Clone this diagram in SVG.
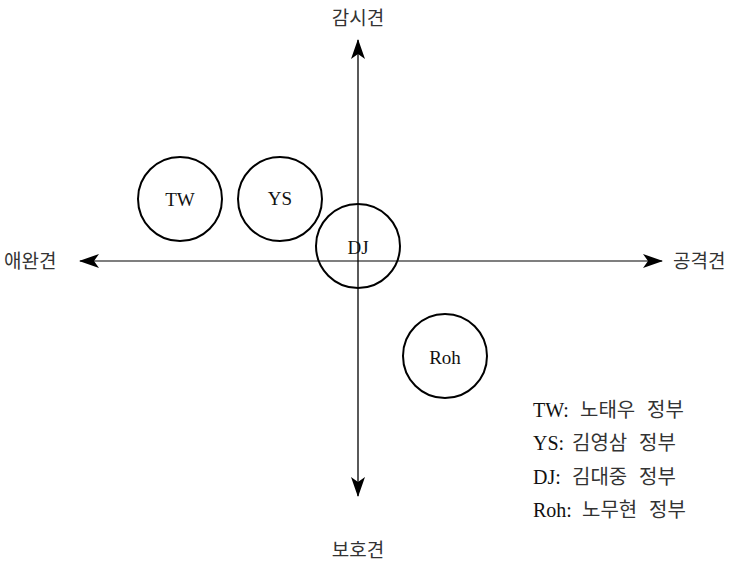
<svg xmlns="http://www.w3.org/2000/svg" width="739" height="566" viewBox="0 0 739 566">
<style>
.node{fill:none;stroke:#000;stroke-width:2}
.lbl{font-family:"Liberation Serif",serif;font-size:19px;fill:#111;text-anchor:middle;dominant-baseline:central}
.ax{font-family:"Noto Sans CJK KR",sans-serif;font-size:19px;fill:#333}
.leg{font-family:"Liberation Serif","Noto Sans CJK KR",serif;font-size:20px;fill:#111}
.ko{font-family:"Noto Sans CJK KR",sans-serif;fill:#333;font-size:20px}
</style>
<defs>
<marker id="ah" viewBox="0 0 20 14" refX="19" refY="7" markerWidth="20" markerHeight="14" markerUnits="userSpaceOnUse" orient="auto">
<path d="M0,0 L20,7 L0,14 L5,7 Z" fill="#000"/>
</marker>
</defs>
<rect width="739" height="566" fill="#fff"/>
<g id="connectors">
<line x1="358" y1="261" x2="80" y2="261" stroke="#555" stroke-width="1.3" marker-end="url(#ah)"/>
<line x1="358" y1="261" x2="662" y2="261" stroke="#555" stroke-width="1.3" marker-end="url(#ah)"/>
<line x1="358" y1="261" x2="358" y2="40" stroke="#000" stroke-width="1.3" marker-end="url(#ah)"/>
<line x1="358" y1="261" x2="358" y2="496" stroke="#000" stroke-width="1.3" marker-end="url(#ah)"/>
</g>
<g id="axis-labels">
<text class="ax" x="358" y="25" text-anchor="middle">감시견</text>
<text class="ax" x="358" y="557" text-anchor="middle">보호견</text>
<text class="ax" x="4" y="268">애완견</text>
<text class="ax" x="673" y="268">공격견</text>
</g>
<g id="node-TW"><circle class="node" cx="180" cy="199" r="42"/><text class="lbl" x="180" y="199">TW</text></g>
<g id="node-YS"><circle class="node" cx="280" cy="199" r="42"/><text class="lbl" x="280" y="198">YS</text></g>
<g id="node-DJ"><circle class="node" cx="358" cy="246" r="42"/><text class="lbl" x="358" y="247">DJ</text></g>
<g id="node-Roh"><circle class="node" cx="445" cy="356" r="42"/><text class="lbl" x="445" y="357">Roh</text></g>
<g id="legend">
<text class="leg" y="417"><tspan x="533">TW:</tspan><tspan class="ko" x="580">노태우</tspan><tspan class="ko" x="647">정부</tspan></text>
<text class="leg" y="450"><tspan x="533">YS:</tspan><tspan class="ko" x="572">김영삼</tspan><tspan class="ko" x="639">정부</tspan></text>
<text class="leg" y="484"><tspan x="533">DJ:</tspan><tspan class="ko" x="572">김대중</tspan><tspan class="ko" x="639">정부</tspan></text>
<text class="leg" y="517"><tspan x="533">Roh:</tspan><tspan class="ko" x="582">노무현</tspan><tspan class="ko" x="649">정부</tspan></text>
</g>
</svg>
